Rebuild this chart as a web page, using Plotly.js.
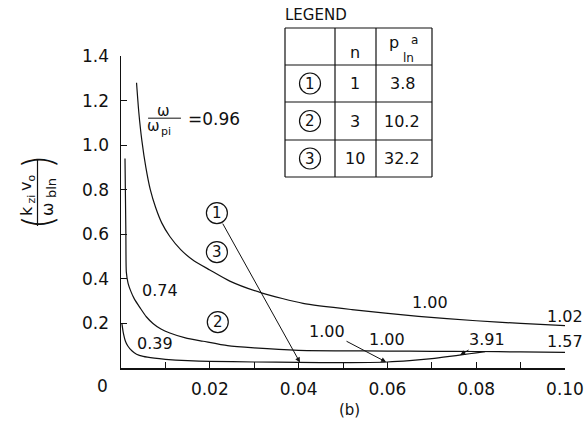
<!DOCTYPE html>
<html>
<head>
<meta charset="utf-8">
<script src="https://cdn.plot.ly/plotly-3.0.1.min.js"></script>
<style>
  html, body { margin: 0; padding: 0; background: #fff; }
  #chart { width: 587px; height: 426px; }
</style>
</head>
<body>
<div id="chart"></div>
<script>
// Normalised wave number k_zi v_o / omega_bln versus radial position, three harmonics.
const curve1X = [0.0002, 0.0005, 0.001, 0.0015, 0.0025, 0.0035, 0.005, 0.0075, 0.010, 0.015, 0.020, 0.030, 0.040, 0.050, 0.060, 0.065, 0.070, 0.074, 0.077, 0.080, 0.082];
const curve1Y = [0.20, 0.16, 0.12, 0.10, 0.076, 0.062, 0.052, 0.044, 0.039, 0.033, 0.030, 0.027, 0.025, 0.024, 0.027, 0.033, 0.042, 0.052, 0.060, 0.068, 0.073];

const curve2X = [0.0009, 0.0011, 0.0012, 0.0016, 0.0022, 0.003, 0.0043, 0.0057, 0.0072, 0.009, 0.011, 0.0145, 0.0185, 0.024, 0.030, 0.040, 0.050, 0.060, 0.070, 0.080, 0.090, 0.100];
const curve2Y = [0.94, 0.60, 0.43, 0.38, 0.345, 0.31, 0.27, 0.23, 0.20, 0.175, 0.157, 0.135, 0.12, 0.10, 0.09, 0.079, 0.077, 0.076, 0.075, 0.074, 0.072, 0.070];

const curve3X = [0.0035, 0.0040, 0.0047, 0.0056, 0.0066, 0.0078, 0.0092, 0.0110, 0.0135, 0.0165, 0.0200, 0.0245, 0.0318, 0.041, 0.052, 0.067, 0.080, 0.090, 0.100];
const curve3Y = [1.28, 1.15, 1.02, 0.90, 0.80, 0.72, 0.65, 0.59, 0.53, 0.48, 0.44, 0.39, 0.336, 0.29, 0.262, 0.232, 0.212, 0.20, 0.19];

const xTickVals = [0.02, 0.04, 0.06, 0.08, 0.10];
const xTickText = ['0.02', '0.04', '0.06', '0.08', '0.10'];
const yTickVals = [0.2, 0.4, 0.6, 0.8, 1.0, 1.2, 1.4];
const yTickText = ['0.2', '0.4', '0.6', '0.8', '1.0', '1.2', '1.4'];

// Legend table rows: curve number, harmonic n, p_ln a
const legendIds = ['1', '2', '3'];
const legendN = ['1', '3', '10'];
const legendPa = ['3.8', '10.2', '32.2'];

const INK = '#111';
const FONT = 'DejaVu Sans, Liberation Sans, sans-serif';
const THIN = 'Inter, Lato, Open Sans, sans-serif';

// plot area geometry (pixels) used to place the decorations around the axes
const L = 121, T = 56, W = 444, H = 312;
const px = x => (x - L) / W;
const py = y => (T + H - y) / H;

function lineOf(x, y) {
  return { x: x, y: y, type: 'scatter', mode: 'lines', hoverinfo: 'skip',
           line: { color: INK, width: 1.2, shape: 'spline', smoothing: 0.6 } };
}

const traces = [lineOf(curve1X, curve1Y), lineOf(curve2X, curve2Y), lineOf(curve3X, curve3Y)];

const shapes = [];
const annotations = [];

function txt(text, x, y, size, extra) {
  return Object.assign({ text: text, x: x, y: y, xref: 'x', yref: 'y', showarrow: false,
    xanchor: 'center', yanchor: 'middle',
    font: { family: FONT, size: size, color: INK } }, extra || {});
}
function ptxt(text, x, y, size, extra) {
  return txt(text, px(x), py(y), size, Object.assign({ xref: 'paper', yref: 'paper' }, extra || {}));
}
function circleAt(xref, yref, cx, cy, r) {
  shapes.push({ type: 'circle', xref: xref, yref: yref, xsizemode: 'pixel', ysizemode: 'pixel',
    xanchor: cx, yanchor: cy, x0: -r, x1: r, y0: -r, y1: r, line: { color: INK, width: 1.2 } });
}
function pline(x0, y0, x1, y1, w) {
  shapes.push({ type: 'line', xref: 'paper', yref: 'paper', x0: px(x0), y0: py(y0), x1: px(x1), y1: py(y1),
    line: { color: INK, width: w || 1.2 } });
}
const ARROW = { showarrow: true, axref: 'x', ayref: 'y', arrowhead: 2, arrowsize: 1, arrowwidth: 1, arrowcolor: INK, standoff: 0 };

// curve value labels
annotations.push(txt('0.39', 0.0077, 0.112, 16));
annotations.push(txt('0.74', 0.0088, 0.35, 16));
annotations.push(txt('1.00', 0.0696, 0.296, 16));
annotations.push(txt('1.02', 0.1, 0.229, 16));
annotations.push(txt('1.57', 0.1, 0.117, 16));
annotations.push(txt('1.00', 0.0599, 0.126, 16));
annotations.push(txt('3.91', 0.0764, 0.058, 16, Object.assign({ ax: 0.0824, ay: 0.13 }, ARROW)));
annotations.push(txt('1.00', 0.0597, 0.027, 16, Object.assign({ ax: 0.0464, ay: 0.166 }, ARROW)));

// omega / omega_pi = 0.96
annotations.push(txt('ω', 0.0095, 1.153, 15));
annotations.push(txt('ω', 0.0074, 1.088, 15));
annotations.push(txt('pi', 0.0102, 1.060, 11));
shapes.push({ type: 'line', xref: 'x', yref: 'y', x0: 0.0061, x1: 0.0135, y0: 1.121, y1: 1.121, line: { color: INK, width: 1 } });
annotations.push(txt('=0.96', 0.0209, 1.117, 17));

// circled curve numbers inside the plot; number 1 points at its curve
circleAt('x', 'y', 0.0216, 0.695, 10.5);
annotations.push(txt('1', 0.0403, 0.025, 15, Object.assign({ ax: 0.0216, ay: 0.695 }, ARROW)));
[['3', 0.0216, 0.52], ['2', 0.0218, 0.206]].forEach(function (c) {
  circleAt('x', 'y', c[1], c[2], 10.5);
  annotations.push(txt(c[0], c[1], c[2], 15));
});

// origin label and panel tag
annotations.push(ptxt('0', 102, 386, 17));
annotations.push(ptxt('(b)', 349, 410, 15));

// y-axis title: ( k_zi v_o / omega_bln ), written bottom to top
const ROT = { textangle: -90 };
annotations.push(ptxt('k', 26, 211, 16, ROT));
annotations.push(ptxt('zi', 30.5, 199, 11, ROT));
annotations.push(ptxt('v', 26, 187, 16, ROT));
annotations.push(ptxt('o', 30.5, 178, 11, ROT));
annotations.push(ptxt('ω', 47, 210, 16, ROT));
annotations.push(ptxt('bln', 51, 188, 13, ROT));
pline(37.5, 160, 37.5, 226, 1.2);
annotations.push(ptxt('(', 36.5, 223, 40, Object.assign({ font: { family: THIN, size: 40, color: INK, weight: 200 } }, ROT)));
annotations.push(ptxt(')', 36.5, 161, 40, Object.assign({ font: { family: THIN, size: 40, color: INK, weight: 200 } }, ROT)));

// legend table
annotations.push(ptxt('LEGEND', 316, 15, 15));
const colX = [285, 335, 376, 432];
const rowY = [28, 65, 102, 140, 177];
colX.forEach(x => pline(x, rowY[0], x, rowY[rowY.length - 1], 1.2));
rowY.forEach(y => pline(colX[0], y, colX[colX.length - 1], y, 1.2));
annotations.push(ptxt('n', 355, 52, 16));
annotations.push(ptxt('p', 394, 43, 16));
annotations.push(ptxt('a', 414, 40, 12));
annotations.push(ptxt('ln', 408, 58, 12));
legendIds.forEach(function (id, i) {
  const yc = (rowY[i + 1] + rowY[i + 2]) / 2;
  circleAt('paper', 'paper', px(310), py(yc), 10.5);
  annotations.push(ptxt(id, 310, yc, 15));
  annotations.push(ptxt(legendN[i], 355, yc, 16));
  annotations.push(ptxt(legendPa[i], 402, yc, 16));
});

const layout = {
  width: 587, height: 426,
  margin: { l: L, r: 587 - L - W, t: T, b: 426 - T - H },
  paper_bgcolor: '#fff', plot_bgcolor: '#fff',
  showlegend: false,
  font: { family: FONT, color: INK, size: 16 },
  xaxis: {
    range: [0, 0.1], showgrid: false, zeroline: false,
    showline: true, linecolor: INK, linewidth: 1.5, mirror: false,
    tickmode: 'array', tickvals: xTickVals, ticktext: xTickText,
    ticks: 'inside', ticklen: 6, tickwidth: 1, tickcolor: INK,
    minor: { tickmode: 'linear', tick0: 0, dtick: 0.01, ticks: 'inside', ticklen: 6, tickwidth: 1, tickcolor: INK },
    tickfont: { family: FONT, size: 17, color: INK }, ticklabelstandoff: 5
  },
  yaxis: {
    range: [0, 1.4], showgrid: false, zeroline: false,
    showline: true, linecolor: INK, linewidth: 1.5, mirror: false,
    tickmode: 'array', tickvals: yTickVals, ticktext: yTickText,
    ticks: 'inside', ticklen: 6, tickwidth: 1, tickcolor: INK,
    tickfont: { family: FONT, size: 17, color: INK }, ticklabelstandoff: 7
  },
  shapes: shapes,
  annotations: annotations
};

Plotly.newPlot('chart', traces, layout, { staticPlot: true, displayModeBar: false });
</script>
</body>
</html>
